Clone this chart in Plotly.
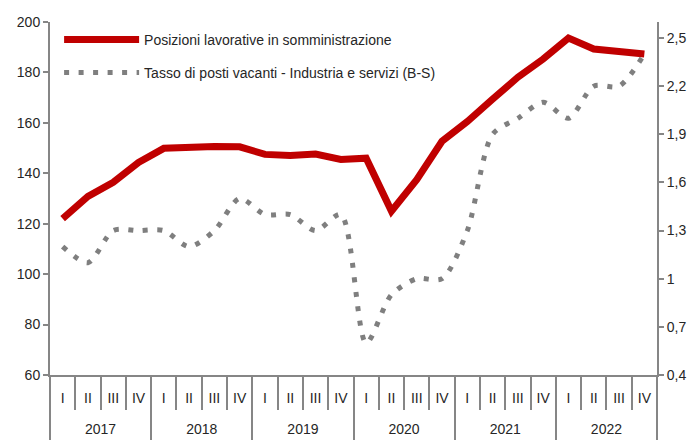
import plotly.graph_objects as go

years = ["2017", "2018", "2019", "2020", "2021", "2022"]
quarters = ["I", "II", "III", "IV"]

posizioni = [
    122, 130.8, 136.4, 144.3,
    149.9, 150.5, 150.6, 150.5,
    147.5, 147.1, 147.6, 145.5,
    146.0, 125.0, 137.5, 152.7,
    160.5, 169.4, 178.1, 185.3,
    193.6, 189.3, 188.0, 187.3,
]
posti_vacanti = [
    1.2, 1.1, 1.3, 1.3,
    1.3, 1.2, 1.3, 1.5,
    1.4, 1.4, 1.3, 1.4,
    0.6, 0.9, 1.0, 1.0,
    1.3, 1.9, 2.0, 2.1,
    2.0, 2.2, 2.2, 2.4,
]

periods = [f"{y} {q}" for y in years for q in quarters]
quarter_labels = [q for _ in years for q in quarters]
n_q = len(quarters)
year_centers = [i * n_q + (n_q - 1) / 2 for i in range(len(years))]
x_range = [-0.5, len(periods) - 0.5]

FONT = "Liberation Sans, Arial, sans-serif"
TEXT = "#262626"
AXIS = "#868686"

fig = go.Figure()
fig.add_trace(
    go.Scatter(
        x=periods,
        y=posizioni,
        mode="lines",
        name="Posizioni lavorative in somministrazione",
        line={"color": "#c00000", "width": 7},
        legend="legend",
        showlegend=True,
    )
)
fig.add_trace(
    go.Scatter(
        x=periods,
        y=posti_vacanti,
        mode="lines",
        name="Tasso di posti vacanti - Industria e servizi (B-S)",
        line={"color": "#7f7f7f", "width": 5, "dash": "5px,9.5px", "shape": "spline", "smoothing": 0.8},
        yaxis="y2",
        legend="legend2",
        showlegend=True,
    )
)
# empty helper trace so the year axis gets drawn
fig.add_trace(
    go.Scatter(
        x=year_centers,
        y=[None] * len(years),
        mode="lines",
        xaxis="x2",
        showlegend=False,
        hoverinfo="skip",
    )
)

legend_style = {
    "font": {"family": FONT, "size": 14, "color": TEXT},
    "bgcolor": "rgba(0,0,0,0)",
    "itemwidth": 75,
    "xanchor": "left",
    "yanchor": "middle",
    "visible": True,
}

axis_common = {
    "showline": True,
    "linecolor": AXIS,
    "linewidth": 2,
    "ticks": "outside",
    "ticklen": 5,
    "tickwidth": 2,
    "tickcolor": AXIS,
    "showgrid": False,
    "zeroline": False,
    "automargin": False,
}

plot_bottom = 65 / 418

fig.update_layout(
    width=697,
    height=440,
    margin={"l": 50, "r": 40, "t": 22, "b": 0},
    paper_bgcolor="white",
    plot_bgcolor="white",
    separators=",.",
    showlegend=True,
    font={"family": FONT, "size": 14, "color": TEXT},
    legend={**legend_style, "x": 0.015, "y": 0.957},
    legend2={**legend_style, "x": 0.015, "y": 0.878},
    xaxis={
        "type": "category",
        "categoryarray": periods,
        "range": x_range,
        "tickvals": periods,
        "ticktext": quarter_labels,
        "showline": True,
        "linecolor": AXIS,
        "linewidth": 2,
        "ticks": "outside",
        "tickson": "boundaries",
        "ticklen": 33,
        "tickwidth": 2,
        "tickcolor": AXIS,
        "ticklabelstandoff": 9,
        "showgrid": False,
        "automargin": False,
        "tickfont": {"family": FONT, "size": 14, "color": TEXT},
    },
    xaxis2={
        "overlaying": "x",
        "anchor": "free",
        "position": 0,
        "side": "top",
        "range": x_range,
        "tickmode": "array",
        "tickvals": year_centers,
        "ticktext": years,
        "ticks": "",
        "ticklabelstandoff": 3,
        "showline": False,
        "showgrid": False,
        "zeroline": False,
        "automargin": False,
        "minor": {
            "tick0": -0.5,
            "dtick": n_q,
            "ticks": "outside",
            "ticklen": 65,
            "tickwidth": 2,
            "tickcolor": AXIS,
            "showgrid": False,
        },
        "tickfont": {"family": FONT, "size": 14, "color": TEXT},
    },
    yaxis={
        **axis_common,
        "domain": [plot_bottom, 1],
        "range": [60, 200],
        "dtick": 20,
    },
    yaxis2={
        **axis_common,
        "overlaying": "y",
        "side": "right",
        "range": [0.4, 2.6],
        "tick0": 0.4,
        "dtick": 0.3,
    },
)

fig.write_html(
    "out.html",
    config={"displayModeBar": False},
    post_script="document.body.style.margin = '0';",
)
